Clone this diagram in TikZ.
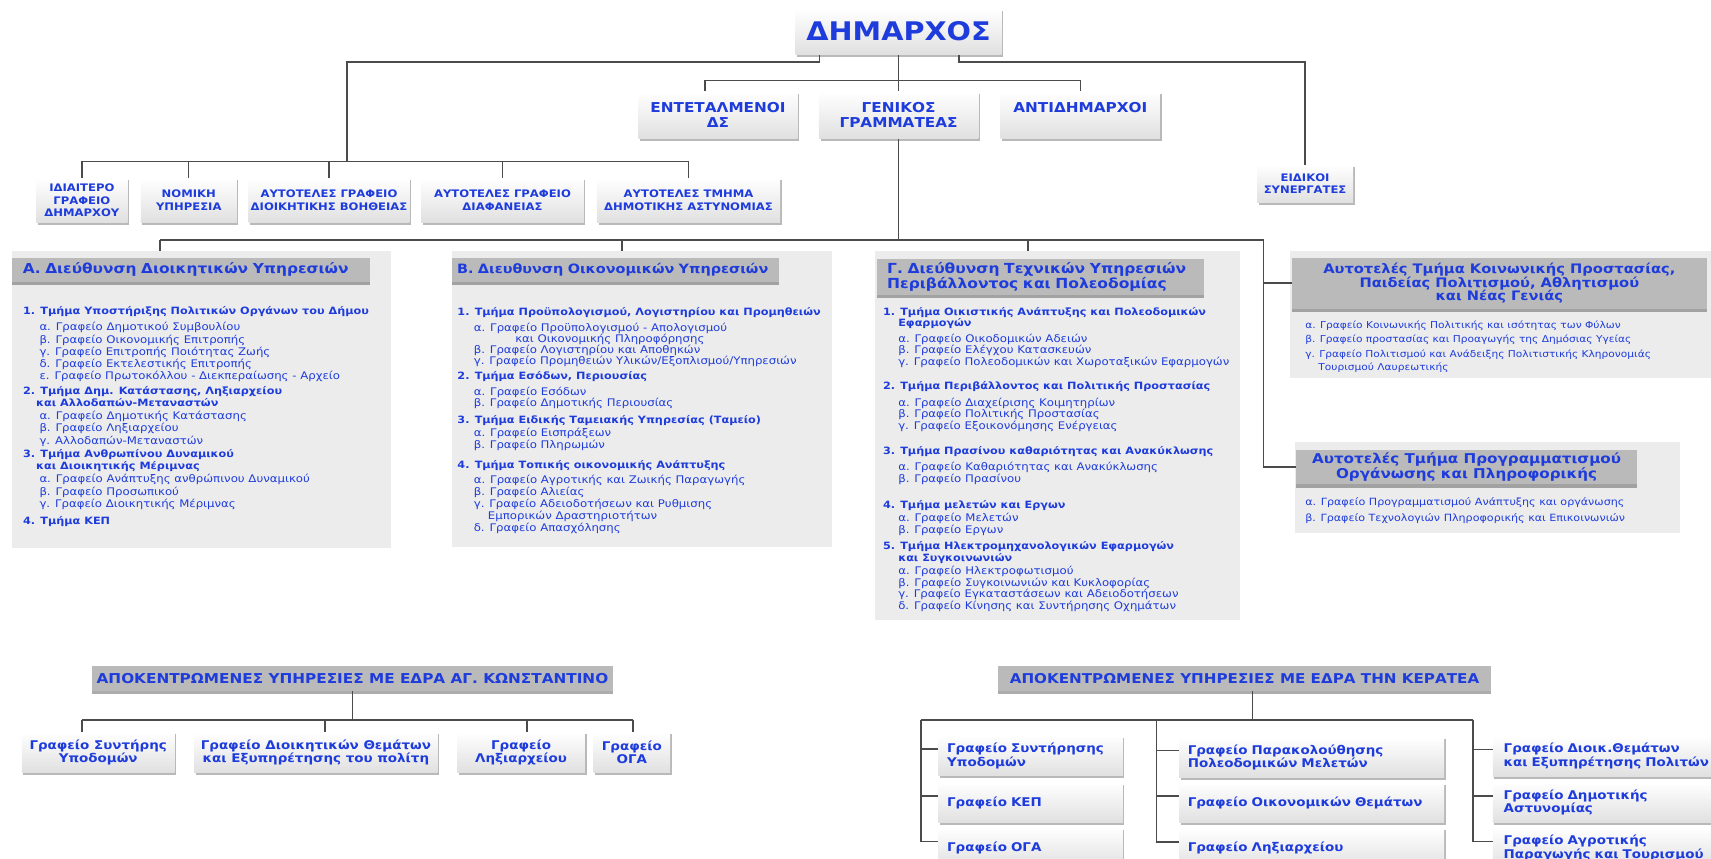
\documentclass[tikz,border=0pt]{standalone}
\usepackage{fontspec}
\setmainfont{DejaVu Sans}[FakeStretch=1.12]
\usetikzlibrary{shadows}

\definecolor{orgblue}{RGB}{30,60,220}
\definecolor{linegray}{RGB}{75,75,75}
\definecolor{panelgray}{RGB}{236,236,236}
\definecolor{bargray}{RGB}{186,186,186}
\definecolor{boxlow}{RGB}{224,224,224}

\newcommand\subind{\hspace*{15pt}}
\newcommand\grpbold[1]{{\fontsize{9.2}{11}\selectfont\bfseries #1}}
\newcommand\grphead[1]{\rule{0pt}{8pt}\grpbold{#1}}

\begin{document}
\begin{tikzpicture}[
    x=1pt, y=1pt,
    conn/.style = {draw=linegray, line width=1.3pt},
    box/.style = {top color=white, bottom color=boxlow, text=orgblue, align=center, inner sep=2pt,
                  drop shadow={shadow xshift=1.5pt, shadow yshift=-2pt, fill=black!55}},
    topbox/.style = {box, minimum width=146pt, minimum height=43pt, font=\fontsize{12.5}{14}\selectfont\bfseries},
    smallbox/.style = {box, minimum height=41pt, font=\fontsize{9.5}{11.5}\selectfont\bfseries},
    kbox/.style = {box, minimum height=37pt, font=\fontsize{11}{12.5}\selectfont\bfseries},
    tbox/.style = {kbox, align=left, inner xsep=8pt},
    bar/.style = {fill=bargray, text=orgblue, inner sep=0pt, font=\fontsize{12}{13.5}\selectfont\bfseries,
                  drop shadow={shadow xshift=0pt, shadow yshift=-3pt, fill=black!65}},
    panel/.style = {fill=panelgray},
    grp/.style = {anchor=north west, inner sep=0pt, align=left, text=orgblue,
                  font=\fontsize{9.6}{11.2}\selectfont},
]
\useasboundingbox (0,0) rectangle (1568,-787);

% mayor and staff
\node[box, minimum width=189pt, minimum height=42pt, font=\fontsize{23.5}{26}\selectfont\bfseries] (dim) at (823.5,-29) {ΔΗΜΑΡΧΟΣ};
\node[topbox] (ent)  at (658,-105.5)   {ΕΝΤΕΤΑΛΜΕΝΟΙ\\ΔΣ};
\node[topbox] (gen)  at (823.5,-105.5) {ΓΕΝΙΚΟΣ\\ΓΡΑΜΜΑΤΕΑΣ};
\node[topbox] (anti) at (990,-105.5)   {ΑΝΤΙΔΗΜΑΡΧΟΙ\\\phantom{Δ}};

\node[smallbox, minimum width=84pt]  (idi) at (75,-183.5)    {ΙΔΙΑΙΤΕΡΟ\\ΓΡΑΦΕΙΟ\\ΔΗΜΑΡΧΟΥ};
\node[smallbox, minimum width=88pt]  (nom) at (173,-183.5)   {ΝΟΜΙΚΗ\\ΥΠΗΡΕΣΙΑ};
\node[smallbox, minimum width=145pt] (boi) at (301.5,-183.5) {ΑΥΤΟΤΕΛΕΣ ΓΡΑΦΕΙΟ\\ΔΙΟΙΚΗΤΙΚΗΣ ΒΟΗΘΕΙΑΣ};
\node[smallbox, minimum width=149pt] (dia) at (460.5,-183.5) {ΑΥΤΟΤΕΛΕΣ ΓΡΑΦΕΙΟ\\ΔΙΑΦΑΝΕΙΑΣ};
\node[smallbox, minimum width=168pt] (ast) at (631,-183.5)   {ΑΥΤΟΤΕΛΕΣ ΤΜΗΜΑ\\ΔΗΜΟΤΙΚΗΣ ΑΣΤΥΝΟΜΙΑΣ};
\node[smallbox, minimum width=88pt, minimum height=35pt] (eid) at (1196,-168.5) {ΕΙΔΙΚΟΙ\\ΣΥΝΕΡΓΑΤΕΣ};

\coordinate (ltop) at (318,-57);
\coordinate (lbus) at (318,-148);
\coordinate (rtop) at (1196,-57);
\coordinate (ubus) at (0,-74);
\coordinate (mbus) at (0,-220);
\coordinate (rv)   at (1158,-220);

\draw[conn] ([xshift=-72.5pt]dim.south) |- (ltop) -- (lbus);
\draw[conn] ([xshift=55.5pt]dim.south) |- (rtop) -- (eid.north);
\draw[conn] (dim.south) -- (gen.north);
\draw[conn] ([xshift=-12pt]ent.north) |- (anti.north |- ubus) -- (anti.north);
\draw[conn] (idi.north |- lbus) -- (ast.north |- lbus);
\foreach \n in {idi,nom,boi,dia,ast}
    \draw[conn] (\n.north) -- (\n.north |- lbus);

% directorates
\fill[panel] (11,-230) rectangle (358,-502);
\fill[panel] (414,-230) rectangle (762,-501);
\fill[panel] (802,-230) rectangle (1136,-568);
\fill[panel] (1182,-230) rectangle (1580,-346);
\fill[panel] (1187,-405) rectangle (1540,-488);

\node[bar, minimum width=328pt, minimum height=22pt, text width=308pt, align=left, font=\fontsize{12.6}{13.5}\selectfont\bfseries] (hA) at (175,-247)
    {Α. Διεύθυνση Διοικητικών Υπηρεσιών};
\node[bar, minimum width=300pt, minimum height=22pt, text width=290pt, align=left, font=\fontsize{11.8}{13.5}\selectfont\bfseries] (hB) at (564,-247)
    {Β. Διευθυνση Οικονομικών Υπηρεσιών};
\node[bar, minimum width=299pt, minimum height=33pt, text width=281pt, align=left, font=\fontsize{12.7}{13.5}\selectfont\bfseries] (hC) at (953.5,-253.5)
    {Γ. Διεύθυνση Τεχνικών Υπηρεσιών\\Περιβάλλοντος και Πολεοδομίας};
\node[bar, minimum width=380pt, minimum height=47pt, align=center, font=\fontsize{12}{12.5}\selectfont\bfseries] (hR1) at (1374,-259.5)
    {Αυτοτελές Τμήμα Κοινωνικής Προστασίας,\\Παιδείας Πολιτισμού, Αθλητισμού\\και Νέας Γενιάς};
\node[bar, minimum width=312pt, minimum height=32pt, align=center, font=\fontsize{12.4}{13.5}\selectfont\bfseries] (hR2) at (1344,-428)
    {Αυτοτελές Τμήμα Προγραμματισμού\\Οργάνωσης και Πληροφορικής};

\coordinate (dA) at (146.5,-230);
\coordinate (dB) at (570,-230);
\coordinate (dC) at (942,-230);
\draw[conn] (gen.south) -- (gen.south |- mbus);
\draw[conn] (dA |- mbus) -- (rv) |- (hR2.west);
\draw[conn] (rv |- hR1.west) -- (hR1.west);
\foreach \d in {dA,dB,dC}
    \draw[conn] (\d) -- (\d |- mbus);

% A
\node[grp] (a1) at (21,-280) {\grphead{1. Τμήμα Υποστήριξης Πολιτικών Οργάνων του Δήμου}\\[3.8pt]
    \subind α. Γραφείο Δημοτικού Συμβουλίου\\
    \subind β. Γραφείο Οικονομικής Επιτροπής\\
    \subind γ. Γραφείο Επιτροπής Ποιότητας Ζωής\\
    \subind δ. Γραφείο Εκτελεστικής Επιτροπής\\
    \subind ε. Γραφείο Πρωτοκόλλου - Διεκπεραίωσης - Αρχείο};
\node[grp] (a2) at (21,-353) {\grphead{2. Τμήμα Δημ. Κατάστασης, Ληξιαρχείου}\\
    \hspace*{12pt}\grpbold{και Αλλοδαπών-Μεταναστών}\\[1pt]
    \subind α. Γραφείο Δημοτικής Κατάστασης\\
    \subind β. Γραφείο Ληξιαρχείου\\
    \subind γ. Αλλοδαπών-Μεταναστών};
\node[grp] (a3) at (21,-411) {\grphead{3. Τμήμα Ανθρωπίνου Δυναμικού}\\
    \hspace*{12pt}\grpbold{και Διοικητικής Μέριμνας}\\[1pt]
    \subind α. Γραφείο Ανάπτυξης ανθρώπινου Δυναμικού\\
    \subind β. Γραφείο Προσωπικού\\
    \subind γ. Γραφείο Διοικητικής Μέριμνας};
\node[grp] (a4) at (21,-472) {\grphead{4. Τμήμα ΚΕΠ}};

% B
\node[grp, font=\fontsize{9.6}{10.2}\selectfont] (b1) at (419,-281) {\grphead{1. Τμήμα Προϋπολογισμού, Λογιστηρίου και Προμηθειών}\\[4.4pt]
    \subind α. Γραφείο Προϋπολογισμού - Απολογισμού\\
    \hspace*{53pt}και Οικονομικής Πληροφόρησης\\
    \subind β. Γραφείο Λογιστηρίου και Αποθηκών\\
    \subind γ. Γραφείο Προμηθειών Υλικών/Εξοπλισμού/Υπηρεσιών};
\node[grp, font=\fontsize{9.6}{10.2}\selectfont] (b2) at (419,-339.6) {\grphead{2. Τμήμα Εσόδων, Περιουσίας}\\[4.2pt]
    \subind α. Γραφείο Εσόδων\\
    \subind β. Γραφείο Δημοτικής Περιουσίας};
\node[grp, font=\fontsize{9.6}{11}\selectfont] (b3) at (419,-380) {\grphead{3. Τμήμα Ειδικής Ταμειακής Υπηρεσίας (Ταμείο)}\\[1pt]
    \subind α. Γραφείο Εισπράξεων\\
    \subind β. Γραφείο Πληρωμών};
\node[grp, font=\fontsize{9.6}{11}\selectfont] (b4) at (419,-421) {\grphead{4. Τμήμα Τοπικής οικονομικής Ανάπτυξης}\\[3pt]
    \subind α. Γραφείο Αγροτικής και Ζωικής Παραγωγής\\
    \subind β. Γραφείο Αλιείας\\
    \subind γ. Γραφείο Αδειοδοτήσεων και Ρυθμισης\\
    \hspace*{28pt}Εμπορικών Δραστηριοτήτων\\
    \subind δ. Γραφείο Απασχόλησης};

% C
\node[grp, font=\fontsize{9.6}{10.5}\selectfont] (c1) at (809,-280.6) {\grphead{1. Τμήμα Οικιστικής Ανάπτυξης και Πολεοδομικών}\\
    \hspace*{14pt}\grpbold{Εφαρμογών}\\[3.8pt]
    \hspace*{14pt}α. Γραφείο Οικοδομικών Αδειών\\
    \hspace*{14pt}β. Γραφείο Ελέγχου Κατασκευών\\
    \hspace*{14pt}γ. Γραφείο Πολεοδομικών και Χωροταξικών Εφαρμογών};
\node[grp, font=\fontsize{9.6}{10.5}\selectfont] (c2) at (809,-348.7) {\grphead{2. Τμήμα Περιβάλλοντος και Πολιτικής Προστασίας}\\[4.8pt]
    \hspace*{14pt}α. Γραφείο Διαχείρισης Κοιμητηρίων\\
    \hspace*{14pt}β. Γραφείο Πολιτικής Προστασίας\\
    \hspace*{14pt}γ. Γραφείο Εξοικονόμησης Ενέργειας};
\node[grp, font=\fontsize{9.6}{10.5}\selectfont] (c3) at (809,-408.3) {\grphead{3. Τμήμα Πρασίνου καθαριότητας και Ανακύκλωσης}\\[4.5pt]
    \hspace*{14pt}α. Γραφείο Καθαριότητας και Ανακύκλωσης\\
    \hspace*{14pt}β. Γραφείο Πρασίνου};
\node[grp, font=\fontsize{9.6}{10.5}\selectfont] (c4) at (809,-457.8) {\grphead{4. Τμήμα μελετών και Εργων}\\[1.7pt]
    \hspace*{14pt}α. Γραφείο Μελετών\\
    \hspace*{14pt}β. Γραφείο Εργων};
\node[grp, font=\fontsize{9.6}{10.7}\selectfont] (c5) at (809,-495.4) {\grphead{5. Τμήμα Ηλεκτρομηχανολογικών Εφαρμογών}\\
    \hspace*{14pt}\grpbold{και Συγκοινωνιών}\\[1.6pt]
    \hspace*{14pt}α. Γραφείο Ηλεκτροφωτισμού\\
    \hspace*{14pt}β. Γραφείο Συγκοινωνιών και Κυκλοφορίας\\
    \hspace*{14pt}γ. Γραφείο Εγκαταστάσεων και Αδειοδοτήσεων\\
    \hspace*{14pt}δ. Γραφείο Κίνησης και Συντήρησης Οχημάτων};

% independent units
\node[grp, font=\fontsize{8.7}{11.4}\selectfont] (r1) at (1196,-293) {\rule{0pt}{8pt}α. Γραφείο Κοινωνικής Πολιτικής και ισότητας των Φύλων\\[1.6pt]
    β. Γραφείο προστασίας και Προαγωγής της Δημόσιας Υγείας\\[2.2pt]
    γ. Γραφείο Πολιτισμού και Ανάδειξης Πολιτιστικής Κληρονομιάς\\
    \hspace*{12pt}Τουρισμού Λαυρεωτικής};
\node[grp, font=\fontsize{9.1}{11.4}\selectfont] (r2) at (1196,-455) {\rule{0pt}{8pt}α. Γραφείο Προγραμματισμού Ανάπτυξης και οργάνωσης\\[3.6pt]
    β. Γραφείο Τεχνολογιών Πληροφορικής και Επικοινωνιών};

% decentralised services
\node[bar, minimum width=478pt, minimum height=23pt, font=\fontsize{12.5}{13}\selectfont\bfseries] (hK) at (323,-621.5)
    {ΑΠΟΚΕΝΤΡΩΜΕΝΕΣ ΥΠΗΡΕΣΙΕΣ ΜΕ ΕΔΡΑ ΑΓ. ΚΩΝΣΤΑΝΤΙΝΟ};
\node[bar, minimum width=451pt, minimum height=23pt, font=\fontsize{12.4}{13}\selectfont\bfseries] (hT) at (1140.5,-621.5)
    {ΑΠΟΚΕΝΤΡΩΜΕΝΕΣ ΥΠΗΡΕΣΙΕΣ ΜΕ ΕΔΡΑ ΤΗΝ ΚΕΡΑΤΕΑ};

\node[kbox, minimum width=140pt] (k1) at (90,-689.5)    {Γραφείο Συντήρης\\Υποδομών};
\node[kbox, minimum width=223pt] (k2) at (289.5,-689.5) {Γραφείο Διοικητικών Θεμάτων\\και Εξυπηρέτησης του πολίτη};
\node[kbox, minimum width=117pt] (k3) at (477.5,-689.5) {Γραφείο\\Ληξιαρχείου};
\node[kbox, minimum width=70pt]  (k4) at (579,-689.5)   {Γραφείο\\ΟΓΑ};

\node[tbox, text width=153pt] (t1) at (944.5,-692.5) {Γραφείο Συντήρησης\\Υποδομών};
\node[tbox, text width=153pt] (t2) at (944.5,-735.5) {Γραφείο ΚΕΠ};
\node[tbox, text width=153pt] (t3) at (944.5,-777)   {Γραφείο ΟΓΑ};
\node[tbox, text width=227pt] (m1) at (1202,-694)    {Γραφείο Παρακολούθησης\\Πολεοδομικών Μελετών};
\node[tbox, text width=227pt] (m2) at (1202,-735.5)  {Γραφείο Οικονομικών Θεμάτων};
\node[tbox, text width=227pt] (m3) at (1202,-777.5)  {Γραφείο Ληξιαρχείου};
\node[tbox, text width=212pt, inner xsep=10pt] (q1) at (1484,-693)   {Γραφείο Διοικ.Θεμάτων\\και Εξυπηρέτησης Πολιτών};
\node[tbox, text width=212pt, inner xsep=10pt] (q2) at (1484,-735.5) {Γραφείο Δημοτικής\\Αστυνομίας};
\node[tbox, text width=212pt, inner xsep=10pt] (q3) at (1484,-777)   {Γραφείο Αγροτικής\\Παραγωγής και Τουρισμού};

\coordinate (kbus) at (0,-660);
\draw[conn] (hK.south) -- (hK.south |- kbus);
\foreach \n/\x in {k1/75,k2/298,k3/483,k4/580} {
    \coordinate (d\n) at (\x,-660);
    \draw[conn] (d\n) -- (d\n |- \n.north);
}
\draw[conn] (dk1) -- (dk4);

\coordinate (lc) at (844,-660);
\coordinate (mc) at (1060,-660);
\coordinate (rc) at (1350,-660);
\draw[conn] ([xshift=7.5pt]hT.south) -- ([xshift=7.5pt]hT.south |- lc);
\draw[conn] (lc) -- (rc);
\foreach \n in {t1,t2,t3}
    \draw[conn] ([yshift=6pt]\n.west) -| (lc);
\foreach \n in {m1,m2,m3}
    \draw[conn] ([yshift=6pt]\n.west) -| (mc);
\foreach \n in {q1,q2,q3}
    \draw[conn] ([yshift=6pt]\n.west) -| (rc);
\end{tikzpicture}
\end{document}
